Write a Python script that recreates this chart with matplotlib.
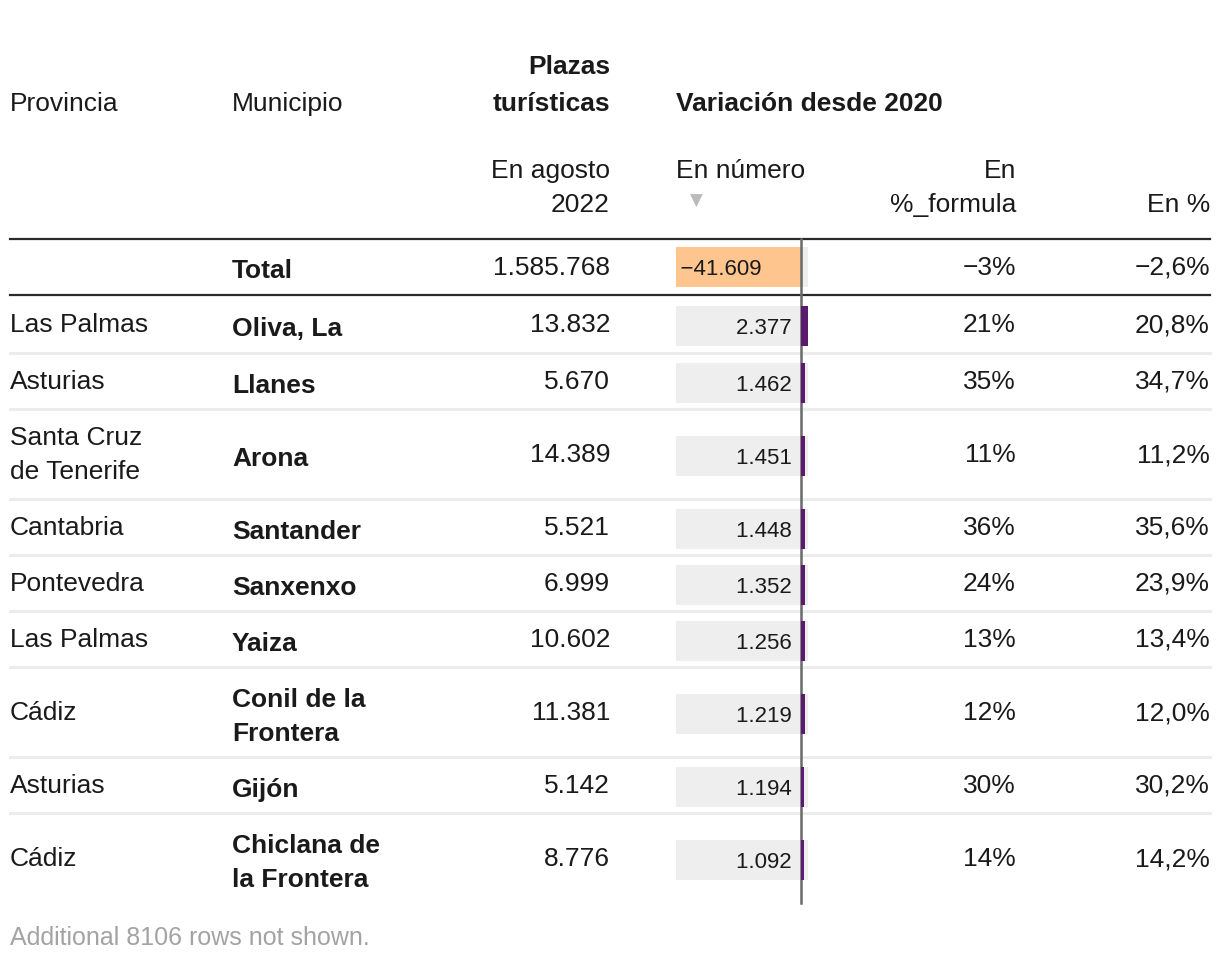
import matplotlib
matplotlib.use("Agg")
import matplotlib.pyplot as plt
from matplotlib.lines import Line2D

plt.rcParams['font.family'] = ['Liberation Sans', 'DejaVu Sans']

# ---- data ----
provincias = ["Las Palmas", "Asturias", "Santa Cruz\nde Tenerife", "Cantabria", "Pontevedra",
              "Las Palmas", "Cádiz", "Asturias", "Cádiz"]
municipios = ["Oliva, La", "Llanes", "Arona", "Santander", "Sanxenxo", "Yaiza",
              "Conil de la\nFrontera", "Gijón", "Chiclana de\nla Frontera"]
plazas = [13832, 5670, 14389, 5521, 6999, 10602, 11381, 5142, 8776]
variacion = [2377, 1462, 1451, 1448, 1352, 1256, 1219, 1194, 1092]
pct_formula = [21, 35, 11, 36, 24, 13, 12, 30, 14]
pct = [20.8, 34.7, 11.2, 35.6, 23.9, 13.4, 12.0, 30.2, 14.2]
total_plazas = 1585768
total_var = -41609
total_pct_formula = -3
total_pct = -2.6
hidden_rows = 8106


def fmt_int(v):
    s = f"{abs(v):,}".replace(",", ".")
    return ("\u2212" if v < 0 else "") + s


def fmt_pct(v, d=0):
    s = f"{abs(v):.{d}f}".replace(".", ",")
    return ("\u2212" if v < 0 else "") + s + "%"


W, H = 1220, 964
fig = plt.figure(figsize=(W / 100, H / 100), dpi=100)
ax = fig.add_axes([0, 0, 1, 1])
ax.set_xlim(0, W)
ax.set_ylim(H, 0)
ax.axis("off")

TXT = "#1a1a1a"
FS = 19
FSB = 19
LINE = 34  # px between lines of a wrapped cell


def reg(x, y, s, ha="left", **kw):
    """Regular text; y is the visual centre of the cell."""
    lines = s.split("\n")
    n = len(lines)
    for k, ln in enumerate(lines):
        yy = y + (k - (n - 1) / 2) * LINE + 9
        ax.text(x, yy, ln, ha=ha, va="baseline", fontsize=FS, color=TXT, **kw)


def bold(x, y, s, ha="left"):
    lines = s.split("\n")
    n = len(lines)
    for k, ln in enumerate(lines):
        yy = y + (k - (n - 1) / 2) * LINE + 12
        ax.text(x, yy, ln, ha=ha, va="baseline", fontsize=FSB, fontweight="bold", color=TXT)


# headers
bold(610, 62, "Plazas", ha="right")
bold(610, 99, "turísticas", ha="right")
reg(10, 102, "Provincia")
reg(232, 102, "Municipio")
bold(676, 99, "Variación desde 2020")
reg(610, 186, "En agosto\n2022", ha="right")
reg(676, 169, "En número")
ax.text(696, 201, "\u25BC", ha="center", va="center", fontsize=12, color="#bbbbbb",
        family="DejaVu Sans")
reg(1016, 186, "En\n%_formula", ha="right")
reg(1210, 203, "En %", ha="right")

# rule lines
ax.add_line(Line2D([10, 1210], [239, 239], color="#2a2a2a", lw=1.6))
ax.add_line(Line2D([10, 1210], [295, 295], color="#2a2a2a", lw=1.6))

# row layout
row_centers = [324, 381, 454, 527, 583, 639, 712, 785, 858]
separators = [353, 409, 499, 555, 611, 667, 757, 813]
for y in separators:
    ax.add_line(Line2D([10, 1210], [y, y], color="#ececec", lw=2.2))

# total row
ty = 266
bold(232, ty, "Total")
reg(610, ty, fmt_int(total_plazas), ha="right")
reg(1016, ty, fmt_pct(total_pct_formula), ha="right")
reg(1210, ty, fmt_pct(total_pct, 1), ha="right")

for i, yc in enumerate(row_centers):
    reg(10, yc - 1, provincias[i])
    bold(232, yc, municipios[i])
    reg(610, yc - 1, fmt_int(plazas[i]), ha="right")
    reg(1016, yc - 1, fmt_pct(pct_formula[i]), ha="right")
    reg(1210, yc - 1, fmt_pct(pct[i], 1), ha="right")

ax.text(10, 945, f"Additional {hidden_rows} rows not shown.", ha="left", va="baseline",
        fontsize=18, color="#a3a3a3")

# bar column
x0, x1 = 676, 808
all_vals = [total_var] + variacion
vmin, vmax = min(all_vals), max(all_vals)
bax = fig.add_axes([x0 / W, 0, (x1 - x0) / W, 1])
bax.set_xlim(vmin, vmax)
bax.set_ylim(H, 0)
bax.axis("off")
bax.patch.set_alpha(0)

bar_y = [267] + [c + 2 for c in row_centers]
bh = 40
bax.barh(bar_y, [vmax - vmin] * len(bar_y), left=vmin, height=bh, color="#eeeeee", zorder=1)
bax.plot([0, 0], [239, 903], color="#6a6a6a", lw=1.8, zorder=2)
bax.barh(bar_y[:1], [total_var], height=bh, color="#fec68e", zorder=1.5)
bax.barh(bar_y[1:], variacion, height=bh, color="#5b1a6e", zorder=3)

bax.text(vmin, bar_y[0] + 8, "\u2009" + fmt_int(total_var), ha="left", va="baseline",
         fontsize=16, color=TXT, zorder=4, family=["Liberation Sans", "DejaVu Sans"])
for v, yc in zip(variacion, bar_y[1:]):
    bax.text(0, yc + 8, fmt_int(v) + "\u2009\u2009", ha="right", va="baseline", fontsize=16,
             color=TXT, zorder=4, family=["Liberation Sans", "DejaVu Sans"])

fig.savefig("out.png", dpi=100)
